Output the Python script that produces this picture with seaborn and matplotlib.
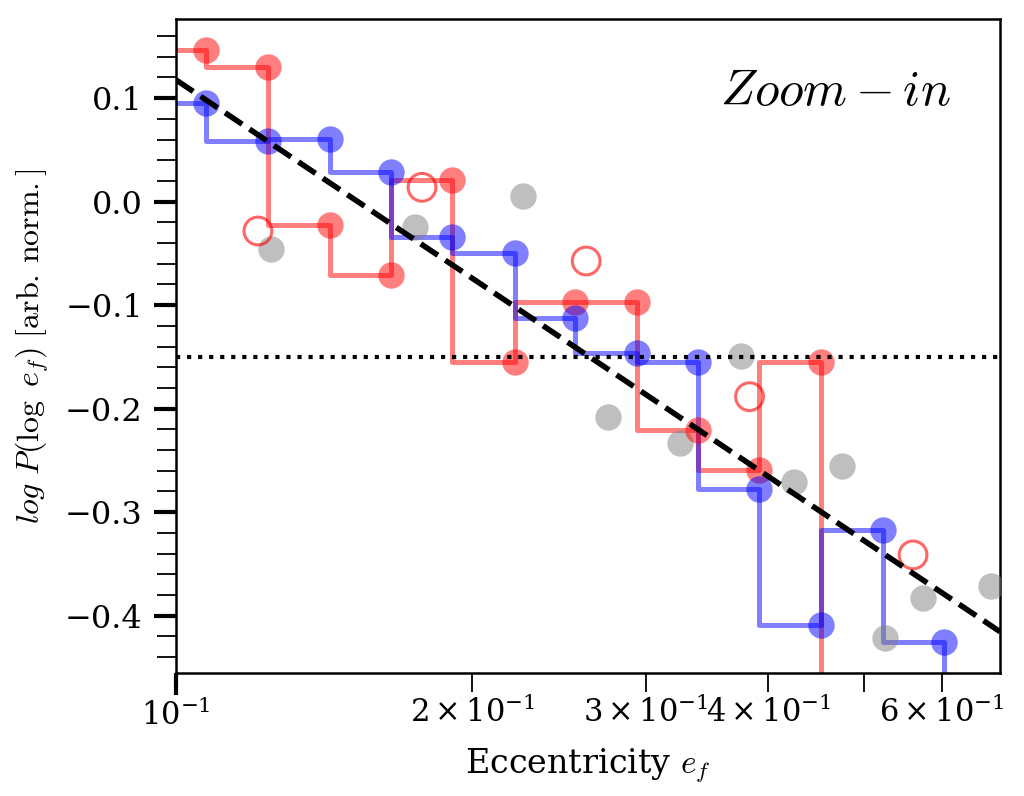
import numpy as np
import pandas as pd
import matplotlib
matplotlib.use("Agg")
import matplotlib.pyplot as plt
from matplotlib.ticker import AutoMinorLocator
import seaborn as sns

# binned distribution, bins shared by the red and blue runs (first/last bins lie outside the view)
bin_x = [0.0930, 0.1073, 0.1240, 0.1434, 0.1654, 0.1909, 0.2208, 0.2546,
         0.2938, 0.3393, 0.3917, 0.4525, 0.5225, 0.6029, 0.6955]
red_y = [0.165, 0.1466, 0.1301, -0.0225, -0.0708, 0.0210, -0.1552, -0.0966,
         -0.0966, -0.2206, -0.2592, -0.1546, -0.60, np.nan, np.nan]
blue_y = [0.110, 0.0951, 0.0589, 0.0606, 0.0290, -0.0338, -0.0496, -0.1128,
          -0.1459, -0.1546, -0.2777, -0.4090, -0.3172, -0.4251, -0.60]

# open red circles
open_x = [0.1211, 0.1778, 0.2611, 0.3827, 0.5611]
open_y = [-0.0283, 0.0139, -0.0573, -0.1884, -0.3413]

# grey points
grey_x = [0.125, 0.175, 0.225, 0.275, 0.325, 0.375, 0.425, 0.475, 0.525, 0.575, 0.673]
grey_y = [-0.0457, -0.0242, 0.0058, -0.2077, -0.2329, -0.1491, -0.2711, -0.2551,
          -0.4213, -0.3826, -0.3710]

# power-law fit in log space and reference level
fit_slope, fit_icpt = -0.6365, -0.5189
level = -0.15
xlim = (0.1, 0.688)
ylim = (-0.4554, 0.1765)

sns.set_style("ticks", {"axes.edgecolor": "black", "xtick.color": "black",
                        "ytick.color": "black", "text.color": "black",
                        "axes.labelcolor": "black"})
plt.rcParams["font.family"] = ["DejaVu Serif"]
plt.rcParams["mathtext.fontset"] = "cm"

fig = plt.figure(figsize=(10.24, 7.96), dpi=100)
ax = fig.add_axes([0.172, 0.1545, 0.8047, 0.8216])

red = pd.DataFrame({"x": bin_x, "y": red_y}).dropna()
blue = pd.DataFrame({"x": bin_x, "y": blue_y}).dropna()

sns.lineplot(data=red, x="x", y="y", ax=ax, color="red", alpha=0.5, lw=3.6,
             drawstyle="steps-pre", estimator=None, sort=False, zorder=2)
sns.lineplot(data=blue, x="x", y="y", ax=ax, color="blue", alpha=0.5, lw=3.6,
             drawstyle="steps-pre", estimator=None, sort=False, zorder=2)

sns.scatterplot(x=grey_x, y=grey_y, ax=ax, color="grey", alpha=0.5, s=19**2,
                linewidth=0, zorder=3)
sns.scatterplot(data=red, x="x", y="y", ax=ax, color="red", alpha=0.5, s=19**2,
                linewidth=0, zorder=3)
sns.scatterplot(data=blue, x="x", y="y", ax=ax, color="blue", alpha=0.5, s=19**2,
                linewidth=0, zorder=3)
sns.scatterplot(x=open_x, y=open_y, ax=ax, facecolor="none", edgecolor="red",
                alpha=0.6, s=20**2, linewidth=2.2, zorder=3)

xf = np.array(xlim)
ax.plot(xf, fit_icpt + fit_slope * np.log10(xf), color="black", ls="--", lw=4, zorder=4)
ax.axhline(level, color="black", ls=":", lw=3, zorder=4)

ax.set_xscale("log")
ax.set_xlim(*xlim)
ax.set_ylim(*ylim)
ax.yaxis.set_minor_locator(AutoMinorLocator(5))

ax.tick_params(which="major", length=16, width=3, direction="out")
ax.tick_params(which="minor", length=13.5, width=1.3, direction="out")
ax.tick_params(axis="y", which="both", labelsize=23, pad=8)
ax.tick_params(axis="x", which="both", labelsize=22, pad=3)
for s in ax.spines.values():
    s.set_linewidth(1.8)

ax.set_xlabel(r"Eccentricity $e_f$", fontsize=24, labelpad=10)
ax.set_ylabel(r"$log\ P(\log\ e_f)\ [\mathrm{arb.\,norm.}]$", fontsize=23, labelpad=10)

ax.text(0.94, 0.89, r"$Zoom-in$", transform=ax.transAxes, ha="right", va="center",
        fontsize=36)

fig.savefig("out.png", dpi=100)
